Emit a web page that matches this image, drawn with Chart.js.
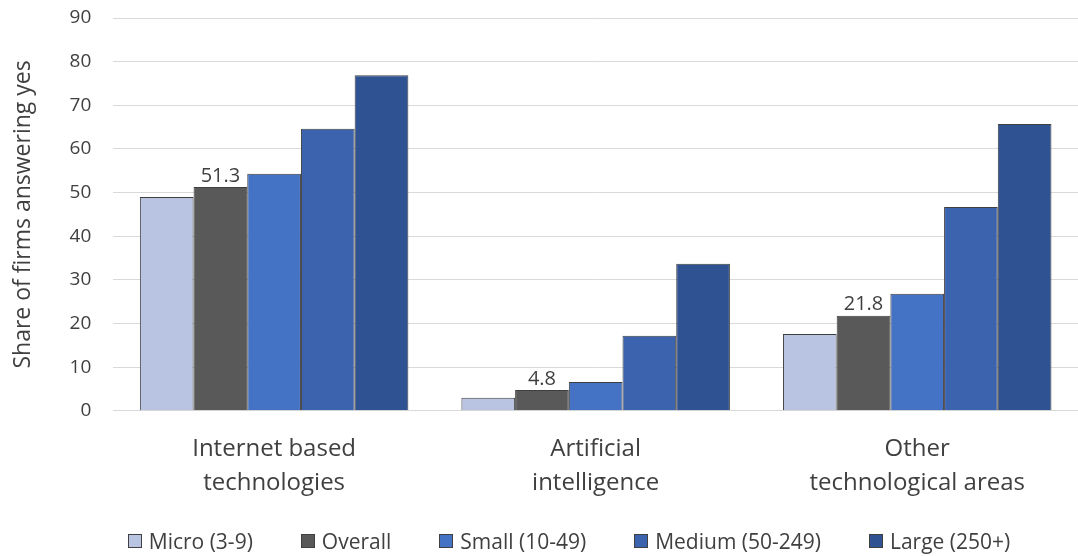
<!DOCTYPE html>
<html>
<head>
<meta charset="utf-8">
<script src="https://cdn.jsdelivr.net/npm/chart.js@4"></script>
<style>
  html, body { margin: 0; padding: 0; background: #fff; }
  #wrap { position: relative; width: 1078px; height: 556px; }
  #legend {
    position: absolute; left: 30px; top: 529px; width: 1078px; height: 24px;
    display: flex; justify-content: center; gap: 48px;
    font-family: 'Open Sans', 'Noto Sans', sans-serif; font-size: 21px; line-height: 24px; color: #404040;
  }
  #legend .item { display: flex; align-items: center; white-space: nowrap; }
  #legend .box { width: 12px; height: 12px; border: 1px solid #404040; margin-right: 7px; }
</style>
</head>
<body>
<div id="wrap">
  <canvas id="chart" width="1078" height="556"></canvas>
  <div id="legend"></div>
</div>
<script>
const categories = [["Internet based", "technologies"], ["Artificial", "intelligence"], ["Other", "technological areas"]];
const seriesNames = ["Micro (3-9)", "Overall", "Small (10-49)", "Medium (50-249)", "Large (250+)"];
const micro = [49.0, 3.0, 17.6];
const overall = [51.3, 4.8, 21.8];
const small = [54.3, 6.6, 26.8];
const medium = [64.6, 17.2, 46.7];
const large = [76.9, 33.7, 65.7];
const yTicks = [0, 10, 20, 30, 40, 50, 60, 70, 80, 90];

const colors = ["#b9c3e2", "#595959", "#4472c4", "#3c64ae", "#2f5392"];
const allSeries = [micro, overall, small, medium, large];
const FONT = "'Open Sans', 'Noto Sans', sans-serif";

// value labels only on the Overall series
const overallLabels = {
  id: "overallLabels",
  afterDatasetsDraw(chart) {
    const ctx = chart.ctx;
    const meta = chart.getDatasetMeta(1);
    ctx.save();
    ctx.font = "20px " + FONT;
    ctx.fillStyle = "#404040";
    ctx.textAlign = "center";
    ctx.textBaseline = "bottom";
    meta.data.forEach((bar, i) => {
      ctx.fillText(overall[i].toFixed(1), bar.x, bar.y - 1);
    });
    ctx.restore();
  }
};

new Chart(document.getElementById("chart"), {
  type: "bar",
  data: {
    labels: categories,
    datasets: allSeries.map((d, i) => ({
      label: seriesNames[i],
      data: d,
      backgroundColor: colors[i],
      borderColor: "#3f3f3f",
      borderWidth: 1,
      categoryPercentage: 0.835,
      barPercentage: 1.0
    }))
  },
  options: {
    responsive: false,
    animation: false,
    layout: { padding: { top: 18, right: 0, left: 6, bottom: 43 } },
    plugins: {
      legend: { display: false },
      tooltip: { enabled: false }
    },
    scales: {
      x: {
        grid: { display: false },
        border: { color: "#d9d9d9" },
        ticks: { font: { family: FONT, size: 24, lineHeight: 1.42 }, color: "#404040", padding: 13 }
      },
      y: {
        min: 0,
        max: 90,
        afterBuildTicks(axis) { axis.ticks = yTicks.map(v => ({ value: v })); },
        afterFit(axis) { axis.paddingTop = 0; },
        grid: { color: "#d9d9d9", drawTicks: false },
        border: { display: false },
        ticks: { font: { family: FONT, size: 19 }, color: "#404040", padding: 22 },
        title: {
          display: true,
          text: "Share of firms answering yes",
          font: { family: FONT, size: 23 },
          color: "#404040",
          padding: { bottom: 10 }
        }
      }
    }
  },
  plugins: [overallLabels]
});

const legendEl = document.getElementById("legend");
seriesNames.forEach((name, i) => {
  const item = document.createElement("div");
  item.className = "item";
  item.innerHTML = `<span class="box" style="background:${colors[i]}"></span><span>${name}</span>`;
  legendEl.appendChild(item);
});
</script>
</body>
</html>
